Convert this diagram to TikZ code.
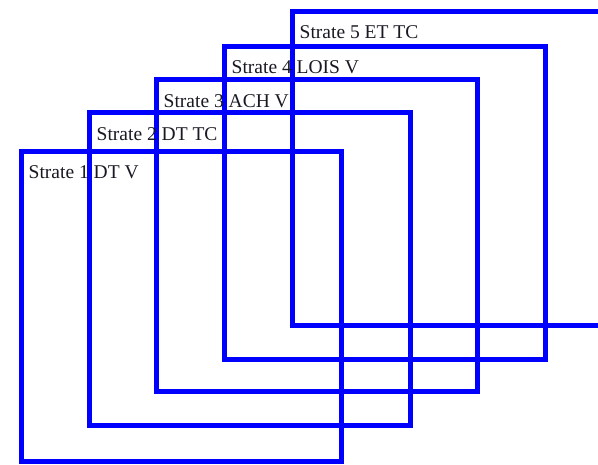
\documentclass[tikz,border=0pt]{standalone}
\usepackage{fontspec}
\setmainfont{Liberation Serif}
\begin{document}
\begin{tikzpicture}[x=1pt,y=-1pt,
  frame/.style={draw={rgb,255:red,0;green,0;blue,255},line width=5pt},
  lbl/.style={anchor=base west,inner sep=0pt,font=\fontsize{19.5}{22}\selectfont,text={rgb,255:red,25;green,25;blue,35}}]
\useasboundingbox (0,0) rectangle (598,464);
\clip (0,0) rectangle (598,464);
\draw[frame] (21.5,151.5) rectangle (341.5,461);
\draw[frame] (89.5,112.5) rectangle (410,425.5);
\draw[frame] (156.5,79.5) rectangle (477,391.5);
\draw[frame] (224.5,46) rectangle (545.5,359);
\draw[frame] (292,11) rectangle (612,325);
\node[lbl] (t1) at (28.5,178) {Strate 1 DT V};
\node[lbl] (t2) at (96.5,140) {Strate 2 DT TC};
\node[lbl] (t3) at (163.5,107) {Strate 3 ACH V};
\node[lbl] (t4) at (231.5,73) {Strate 4 LOIS V};
\node[lbl] (t5) at (299.5,38.5) {Strate 5 ET TC};
\end{tikzpicture}
\end{document}
